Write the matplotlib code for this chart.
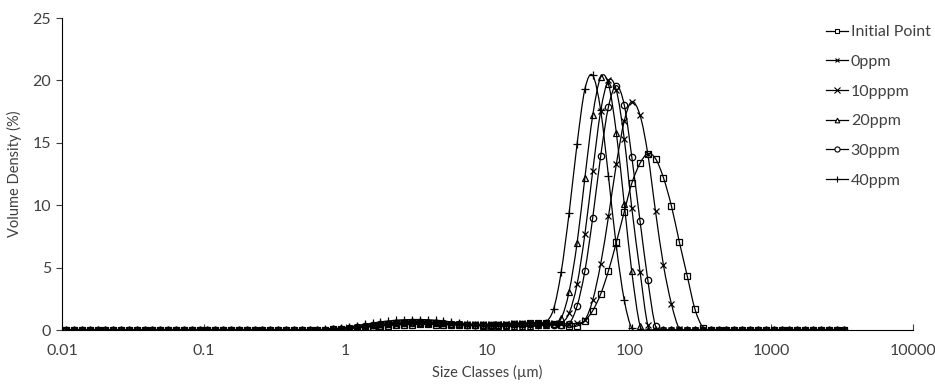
import numpy as np
import matplotlib
matplotlib.use("Agg")
import matplotlib.pyplot as plt
from matplotlib.path import Path
from matplotlib.patches import PathPatch
from matplotlib.lines import Line2D

plt.rcParams['font.family'] = ['Lato', 'DejaVu Sans']

# size classes (um), geometric centre of each of the 100 instrument bins
sizes = [0.0107, 0.0121, 0.0138, 0.0157, 0.0178, 0.0202, 0.0229, 0.0260, 0.0296, 0.0336,
         0.0382, 0.0434, 0.0493, 0.0561, 0.0637, 0.0724, 0.0822, 0.0934, 0.106, 0.120,
         0.137, 0.155, 0.177, 0.201, 0.228, 0.259, 0.294, 0.335, 0.380, 0.432,
         0.490, 0.557, 0.633, 0.720, 0.818, 0.929, 1.06, 1.20, 1.36, 1.55,
         1.76, 2.00, 2.27, 2.58, 2.93, 3.33, 3.78, 4.30, 4.88, 5.55,
         6.31, 7.16, 8.14, 9.25, 10.5, 11.9, 13.6, 15.4, 17.5, 19.9,
         22.6, 25.7, 29.2, 33.1, 37.6, 42.8, 48.6, 55.2, 62.8, 71.3,
         81.0, 92.1, 104, 119, 135, 153, 174, 198, 225, 256,
         290, 330, 375, 426, 484, 550, 625, 710, 806, 916,
         1041, 1183, 1343, 1527, 1737, 1971, 2240, 2545, 2889, 3283]

# volume density (%) for bins 30..83, all other bins are 0
initial = [0, 0.01, 0.02, 0.03, 0.05, 0.08, 0.12, 0.17, 0.22, 0.27,
           0.32, 0.36, 0.40, 0.42, 0.44, 0.45, 0.45, 0.44, 0.43, 0.41,
           0.40, 0.39, 0.39, 0.39, 0.40, 0.42, 0.44, 0.47, 0.50, 0.53,
           0.55, 0.55, 0.48, 0.38, 0.32, 0.32, 0.75, 1.55, 2.88, 4.75,
           7.03, 9.48, 11.75, 13.36, 14.13, 13.73, 12.2, 9.94, 7.08, 4.33,
           1.68, 0.2, 0, 0]
ppm0 = [0, 0.01, 0.02, 0.03, 0.06, 0.09, 0.14, 0.19, 0.25, 0.30,
        0.36, 0.40, 0.44, 0.47, 0.49, 0.50, 0.50, 0.49, 0.48, 0.47,
        0.46, 0.46, 0.46, 0.47, 0.48, 0.50, 0.52, 0.55, 0.57, 0.58,
        0.58, 0.57, 0.55, 0.52, 0.50, 0.55, 0.8, 2.4, 5.3, 9.1,
        13.3, 16.75, 18.3, 17.2, 14.1, 9.5, 5.2, 2.1, 0.1, 0,
        0, 0, 0, 0]
ppm10 = [0, 0.01, 0.02, 0.04, 0.07, 0.10, 0.15, 0.21, 0.27, 0.33,
         0.39, 0.44, 0.48, 0.52, 0.54, 0.55, 0.54, 0.53, 0.50, 0.48,
         0.46, 0.44, 0.43, 0.43, 0.44, 0.45, 0.47, 0.49, 0.50, 0.50,
         0.49, 0.47, 0.45, 0.54, 1.34, 3.66, 7.67, 12.74, 17.55, 20.0,
         19.2, 15.3, 9.8, 4.67, 0.4, 0, 0, 0, 0, 0,
         0, 0, 0, 0]
ppm20 = [0, 0.01, 0.02, 0.04, 0.08, 0.13, 0.20, 0.28, 0.36, 0.44,
         0.52, 0.58, 0.63, 0.67, 0.69, 0.69, 0.67, 0.63, 0.58, 0.52,
         0.46, 0.41, 0.37, 0.34, 0.32, 0.31, 0.31, 0.32, 0.33, 0.35,
         0.37, 0.40, 0.45, 0.94, 3.07, 6.95, 12.2, 17.2, 20.25, 19.7,
         15.8, 10.1, 4.7, 0.35, 0, 0, 0, 0, 0, 0,
         0, 0, 0, 0]
ppm30 = [0, 0.01, 0.02, 0.04, 0.07, 0.11, 0.17, 0.24, 0.31, 0.38,
         0.45, 0.50, 0.55, 0.58, 0.60, 0.60, 0.59, 0.57, 0.54, 0.50,
         0.47, 0.44, 0.42, 0.41, 0.41, 0.42, 0.43, 0.45, 0.47, 0.48,
         0.48, 0.46, 0.43, 0.42, 0.50, 1.92, 4.73, 9.0, 13.94, 17.9,
         19.58, 18.03, 13.89, 8.73, 4.0, 0.3, 0, 0, 0, 0,
         0, 0, 0, 0]
ppm40 = [0, 0.01, 0.02, 0.05, 0.10, 0.17, 0.25, 0.35, 0.45, 0.55,
         0.65, 0.72, 0.78, 0.82, 0.84, 0.84, 0.82, 0.78, 0.72, 0.65,
         0.57, 0.50, 0.43, 0.38, 0.34, 0.31, 0.30, 0.30, 0.30, 0.32,
         0.38, 0.60, 1.66, 4.67, 9.35, 14.9, 19.3, 20.4, 17.6, 12.3,
         6.7, 2.4, 0.15, 0, 0, 0, 0, 0, 0, 0,
         0, 0, 0, 0]

labels = ['Initial Point', '0ppm', '10pppm', '20ppm', '30ppm', '40ppm']
markers = ['s', 'x', 'x', '^', 'o', '+']
msizes = [4.2, 4.2, 4.6, 4.2, 4.6, 5.5]


def pad(vals):
    return [0.0] * 30 + vals + [0.0] * (100 - 30 - len(vals))


def smoothPath(x, y):
    # excel style smoothed line: bezier through the points in log-x space
    pts = np.column_stack([np.log10(x), y])
    verts = [pts[0]]
    codes = [Path.MOVETO]
    n = len(pts)
    for i in range(n - 1):
        p0 = pts[i - 1] if i > 0 else pts[i]
        p1 = pts[i]
        p2 = pts[i + 1]
        p3 = pts[i + 2] if i + 2 < n else pts[i + 1]
        verts += [p1 + (p2 - p0) / 6, p2 - (p3 - p1) / 6, p2]
        codes += [Path.CURVE4] * 3
    verts = np.array(verts)
    verts[:, 0] = 10 ** verts[:, 0]
    return Path(verts, codes)


fig = plt.figure(figsize=(9.35, 3.84), dpi=100)
ax = fig.add_axes([62 / 935, 54 / 384, (913 - 62) / 935, (330 - 18) / 384])

series = [initial, ppm0, ppm10, ppm20, ppm30, ppm40]
x = np.array(sizes)
handles = []
for vals, lab, m, ms in zip(series, labels, markers, msizes):
    y = np.array(pad(vals))
    ax.add_patch(PathPatch(smoothPath(x, y), fill=False, edgecolor='black', lw=0.9))
    ax.plot(x, y, linestyle='none', marker=m, ms=ms, mfc='none', mec='black', mew=0.9)
    handles.append(Line2D([], [], color='black', lw=0.9, marker=m, ms=ms * 0.8,
                          mfc='white', mec='black', mew=0.8, label=lab))

ax.set_xscale('log')
ax.set_xlim(0.01, 10000)
ax.set_ylim(0, 25)
ax.set_xticks([0.01, 0.1, 1, 10, 100, 1000, 10000])
ax.set_xticklabels(['0.01', '0.1', '1', '10', '100', '1000', '10000'])
ax.minorticks_off()
ax.set_yticks([0, 5, 10, 15, 20, 25])
ax.tick_params(axis='x', direction='in', length=4, width=0.8, labelsize=11.5, pad=10, colors='#404040')
ax.tick_params(axis='y', direction='out', length=4, width=0.8, labelsize=11.5, pad=4, colors='#404040')
for s in ['top', 'right']:
    ax.spines[s].set_visible(False)
for s in ['left', 'bottom']:
    ax.spines[s].set_linewidth(0.8)
    ax.spines[s].set_color('black')

ax.set_xlabel('Size Classes (µm)', fontsize=10.5, color='#404040', labelpad=5)
ax.set_ylabel('Volume Density (%)', fontsize=10.5, color='#404040', labelpad=7)

leg = fig.legend(handles=handles, loc='upper left', bbox_to_anchor=(826 / 935, 1 - 25 / 384),
                 frameon=False, fontsize=11.5, handlelength=1.4, handletextpad=0.15,
                 labelspacing=0.97, borderpad=0, borderaxespad=0)
for t in leg.get_texts():
    t.set_color('#404040')

fig.savefig('out.png', dpi=100)
